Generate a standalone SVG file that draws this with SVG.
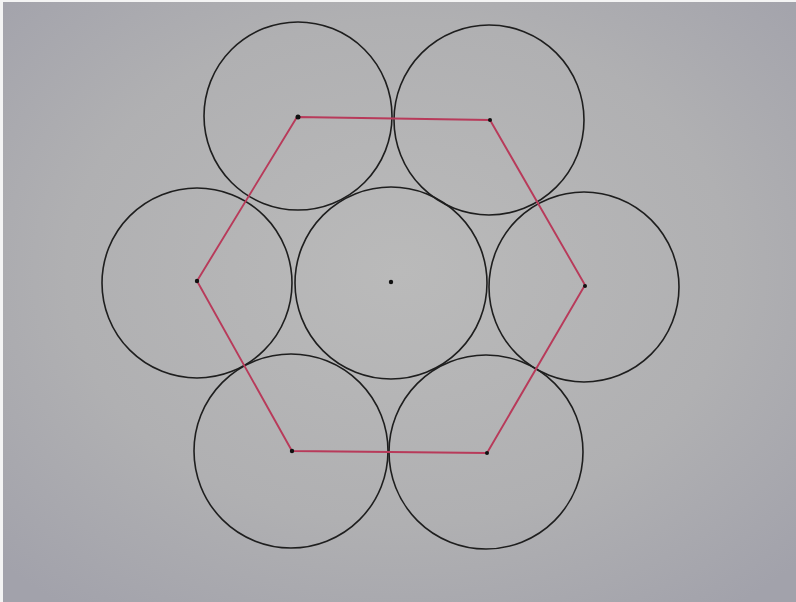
<svg xmlns="http://www.w3.org/2000/svg" width="796" height="602" viewBox="0 0 796 602">
<defs>
<radialGradient id="bg" cx="0.5" cy="0.45" r="0.7">
<stop offset="0" stop-color="#bababa"/>
<stop offset="0.6" stop-color="#b0b0b2"/>
<stop offset="1" stop-color="#a2a2ab"/>
</radialGradient>
</defs>
<style>
.c{fill:none;stroke:#1e1e1e;stroke-width:1.6}
.h{fill:none;stroke:#b83a5a;stroke-width:1.9;stroke-linejoin:miter}
.d{fill:#111}
</style>
<rect x="0" y="0" width="796" height="602" fill="#f4f4f4"/>
<rect x="3" y="2" width="793" height="600" fill="url(#bg)"/>
<g id="circles">
<circle id="c-center" class="c" cx="391" cy="283" r="96"/>
<circle id="c-tl" class="c" cx="298" cy="116" r="94"/>
<circle id="c-tr" class="c" cx="489" cy="120" r="95"/>
<circle id="c-l" class="c" cx="197" cy="283" r="95"/>
<circle id="c-r" class="c" cx="584" cy="287" r="95"/>
<circle id="c-bl" class="c" cx="291" cy="451" r="97"/>
<circle id="c-br" class="c" cx="486" cy="452" r="97"/>
</g>
<g id="connectors">
<polygon class="h" points="297,117 490,120 585,285 487,453 292,451 197,281"/>
</g>
<g id="dots">
<circle class="d" cx="391" cy="282" r="2.2"/>
<circle class="d" cx="298" cy="117" r="2.5"/>
<circle class="d" cx="490" cy="120" r="2"/>
<circle class="d" cx="585" cy="286" r="2"/>
<circle class="d" cx="487" cy="453" r="2"/>
<circle class="d" cx="292" cy="451" r="2.2"/>
<circle class="d" cx="197" cy="281" r="2.2"/>
</g>
</svg>
